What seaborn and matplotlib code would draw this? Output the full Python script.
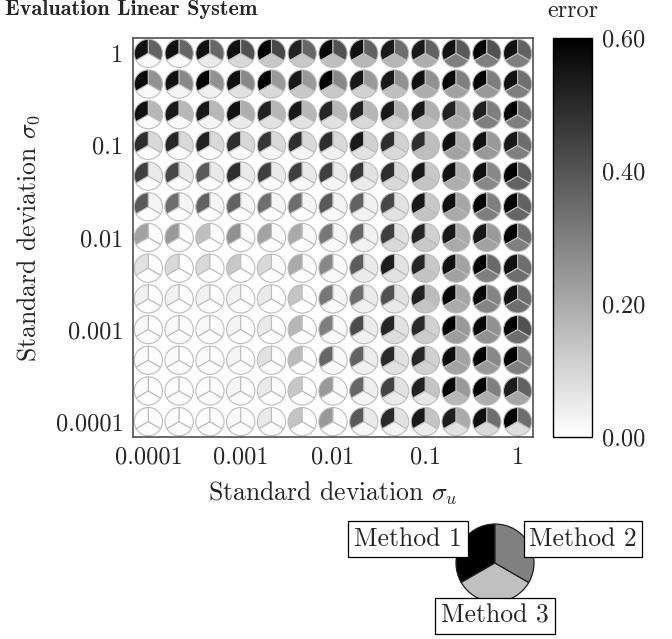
import matplotlib
matplotlib.use("Agg")
import matplotlib.pyplot as plt
import matplotlib.colors as mcolors
import matplotlib.cm as cm
import seaborn as sns

# standard deviations on both axes (13 steps, 1/3 decade each)
tick_pos = [0, 3, 6, 9, 12]
tick_labels = ["0.0001", "0.001", "0.01", "0.1", "1"]

# error per method, rows from sigma_0 = 1 (top) down to 0.0001 (bottom),
# columns from sigma_u = 0.0001 (left) to 1 (right)
method1 = [
    [0.56, 0.56, 0.56, 0.56, 0.60, 0.52, 0.58, 0.56, 0.54, 0.54, 0.56, 0.60, 0.56],
    [0.58, 0.56, 0.60, 0.56, 0.60, 0.54, 0.60, 0.54, 0.54, 0.56, 0.58, 0.60, 0.56],
    [0.56, 0.54, 0.54, 0.56, 0.52, 0.54, 0.51, 0.52, 0.54, 0.54, 0.52, 0.52, 0.60],
    [0.49, 0.51, 0.52, 0.49, 0.47, 0.49, 0.49, 0.54, 0.49, 0.49, 0.56, 0.56, 0.54],
    [0.45, 0.43, 0.39, 0.49, 0.45, 0.45, 0.45, 0.47, 0.49, 0.54, 0.56, 0.56, 0.60],
    [0.39, 0.34, 0.37, 0.37, 0.34, 0.34, 0.39, 0.37, 0.43, 0.54, 0.56, 0.59, 0.59],
    [0.22, 0.24, 0.15, 0.26, 0.22, 0.20, 0.32, 0.36, 0.45, 0.51, 0.54, 0.54, 0.60],
    [0.07, 0.09, 0.09, 0.13, 0.09, 0.20, 0.28, 0.38, 0.53, 0.51, 0.56, 0.59, 0.56],
    [0.035, 0.035, 0.035, 0.035, 0.05, 0.14, 0.32, 0.34, 0.41, 0.52, 0.58, 0.58, 0.56],
    [0.015, 0.015, 0.015, 0.03, 0.05, 0.17, 0.30, 0.42, 0.51, 0.50, 0.60, 0.58, 0.60],
    [0.01, 0.01, 0.01, 0.025, 0.07, 0.16, 0.36, 0.37, 0.50, 0.51, 0.57, 0.60, 0.60],
    [0.005, 0.005, 0.005, 0.025, 0.05, 0.13, 0.24, 0.36, 0.44, 0.52, 0.59, 0.60, 0.53],
    [0.005, 0.005, 0.005, 0.015, 0.05, 0.14, 0.24, 0.39, 0.50, 0.54, 0.53, 0.56, 0.59],
]
method2 = [
    [0.37, 0.36, 0.36, 0.41, 0.43, 0.36, 0.41, 0.37, 0.34, 0.37, 0.39, 0.41, 0.37],
    [0.26, 0.28, 0.26, 0.28, 0.24, 0.24, 0.28, 0.24, 0.26, 0.26, 0.30, 0.30, 0.34],
    [0.17, 0.17, 0.17, 0.19, 0.17, 0.17, 0.17, 0.17, 0.19, 0.19, 0.22, 0.30, 0.34],
    [0.09, 0.09, 0.09, 0.09, 0.09, 0.09, 0.09, 0.11, 0.11, 0.15, 0.20, 0.24, 0.34],
    [0.05, 0.05, 0.05, 0.05, 0.05, 0.05, 0.05, 0.07, 0.09, 0.13, 0.19, 0.28, 0.38],
    [0.025, 0.025, 0.025, 0.025, 0.025, 0.025, 0.03, 0.035, 0.07, 0.13, 0.21, 0.30, 0.37],
    [0.01, 0.01, 0.01, 0.01, 0.015, 0.015, 0.025, 0.035, 0.07, 0.11, 0.20, 0.24, 0.34],
    [0.005, 0.005, 0.005, 0.005, 0.01, 0.01, 0.015, 0.05, 0.07, 0.13, 0.22, 0.35, 0.34],
    [0.005, 0.005, 0.005, 0.005, 0.005, 0.005, 0.025, 0.05, 0.07, 0.16, 0.21, 0.29, 0.34],
    [0.005, 0.005, 0.005, 0.005, 0.005, 0.005, 0.015, 0.045, 0.07, 0.11, 0.24, 0.26, 0.41],
    [0.005, 0.005, 0.005, 0.005, 0.005, 0.005, 0.015, 0.045, 0.07, 0.11, 0.22, 0.28, 0.30],
    [0.005, 0.005, 0.005, 0.005, 0.005, 0.005, 0.01, 0.04, 0.07, 0.14, 0.24, 0.30, 0.37],
    [0.005, 0.005, 0.005, 0.005, 0.005, 0.005, 0.01, 0.05, 0.07, 0.14, 0.20, 0.34, 0.34],
]
method3 = [
    [0.015, 0.015, 0.05, 0.09, 0.13, 0.13, 0.15, 0.17, 0.17, 0.19, 0.30, 0.30, 0.30],
    [0.01, 0.025, 0.035, 0.07, 0.09, 0.13, 0.13, 0.11, 0.15, 0.19, 0.22, 0.24, 0.30],
    [0.01, 0.015, 0.025, 0.05, 0.07, 0.07, 0.07, 0.09, 0.11, 0.15, 0.20, 0.30, 0.30],
    [0.005, 0.005, 0.01, 0.015, 0.025, 0.025, 0.035, 0.07, 0.09, 0.15, 0.22, 0.24, 0.30],
    [0.005, 0.005, 0.005, 0.01, 0.015, 0.015, 0.025, 0.05, 0.09, 0.14, 0.19, 0.28, 0.37],
    [0.005, 0.005, 0.005, 0.005, 0.005, 0.005, 0.015, 0.035, 0.07, 0.14, 0.20, 0.30, 0.36],
    [0.005, 0.005, 0.005, 0.005, 0.005, 0.005, 0.015, 0.035, 0.09, 0.13, 0.20, 0.22, 0.30],
    [0.005, 0.005, 0.005, 0.005, 0.005, 0.005, 0.015, 0.045, 0.07, 0.14, 0.22, 0.30, 0.34],
    [0.005, 0.005, 0.005, 0.005, 0.005, 0.005, 0.015, 0.035, 0.05, 0.14, 0.20, 0.29, 0.34],
    [0.005, 0.005, 0.005, 0.005, 0.005, 0.005, 0.015, 0.035, 0.08, 0.12, 0.23, 0.26, 0.34],
    [0.005, 0.005, 0.005, 0.005, 0.005, 0.005, 0.015, 0.035, 0.07, 0.11, 0.22, 0.24, 0.30],
    [0.005, 0.005, 0.005, 0.005, 0.005, 0.005, 0.01, 0.025, 0.05, 0.06, 0.17, 0.19, 0.21],
    [0.005, 0.005, 0.005, 0.005, 0.005, 0.005, 0.005, 0.02, 0.03, 0.045, 0.07, 0.09, 0.08],
]
methods = ["Method 1", "Method 2", "Method 3"]
legend_grays = ["#000000", "#808080", "#c0c0c0"]

sns.set_theme(style="white")
plt.rcParams["font.family"] = ["cmr10", "DejaVu Serif"]
plt.rcParams["mathtext.fontset"] = "cm"
plt.rcParams["axes.unicode_minus"] = False
fs = 18.5
tfs = 17.5

cmap = sns.blend_palette(["white", "black"], as_cmap=True)
norm = mcolors.Normalize(vmin=0.0, vmax=0.6)

fig = plt.figure(figsize=(6.72, 6.39), dpi=100)
ax = fig.add_axes([133 / 672, 202 / 639, 400 / 672, 399 / 639])

n = len(method1)
for i in range(n):
    for j in range(n):
        cols = [cmap(norm(method1[i][j])), cmap(norm(method3[i][j])), cmap(norm(method2[i][j]))]
        ax.pie([1, 1, 1], colors=cols, center=(j, n - 1 - i), radius=0.46,
               startangle=90, counterclock=True, frame=True,
               wedgeprops=dict(edgecolor="#bcbcbc", linewidth=0.8))

ax.set_xlim(-0.5, n - 0.5)
ax.set_ylim(-0.5, n - 0.5)
ax.set_aspect("auto")
ax.set_xticks(tick_pos)
ax.set_xticklabels(tick_labels)
ax.set_yticks(tick_pos)
ax.set_yticklabels(tick_labels)
ax.tick_params(direction="in", length=4, width=0.8, color="#505050",
               labelsize=tfs, bottom=True, left=True, pad=7)
for sp in ax.spines.values():
    sp.set_color("#505050")
    sp.set_linewidth(1.2)
ax.set_xlabel(r"Standard deviation $\sigma_u$", fontsize=fs, labelpad=8)
ax.set_ylabel(r"Standard deviation $\sigma_0$", fontsize=fs, labelpad=10)

cax = fig.add_axes([553 / 672, 202 / 639, 39 / 672, 399 / 639])
sm = cm.ScalarMappable(norm=norm, cmap=cmap)
cb = fig.colorbar(sm, cax=cax, ticks=[0.0, 0.2, 0.4, 0.6], format="%.2f")
cb.outline.set_edgecolor("black")
cb.outline.set_linewidth(1.0)
cax.tick_params(direction="in", length=4, width=0.8, labelsize=tfs, right=True, pad=7)
cax.set_title("error", fontsize=tfs, pad=15)

fig.text(5 / 672, 1 - 15 / 639, "Evaluation Linear System", fontfamily="cmb10",
         fontsize=16, ha="left", va="baseline")

# legend pie
lax = fig.add_axes([340 / 672, 0, 332 / 672, 139 / 639])
lax.pie([1, 1, 1], colors=[legend_grays[0], legend_grays[2], legend_grays[1]],
        center=(155, 76), radius=39, startangle=90, counterclock=True, frame=True,
        wedgeprops=dict(edgecolor="#202020", linewidth=0.9))
lax.set_xlim(0, 332)
lax.set_ylim(0, 139)
lax.set_aspect("auto")
lax.axis("off")
box = dict(boxstyle="square,pad=0.22", fc="white", ec="black", lw=0.9)
lax.text(68, 100, methods[0], fontsize=fs, ha="center", va="center", bbox=box, zorder=5)
lax.text(243, 100, methods[1], fontsize=fs, ha="center", va="center", bbox=box, zorder=5)
lax.text(155, 23, methods[2], fontsize=fs, ha="center", va="center", bbox=box, zorder=5)

fig.savefig("out.png", dpi=100)
